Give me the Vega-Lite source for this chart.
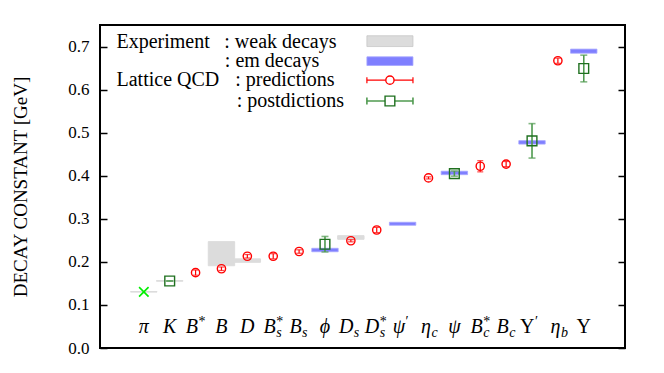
{
  "$schema": "https://vega.github.io/schema/vega-lite/v6.json",
  "width": 525,
  "height": 323,
  "autosize": {"type": "none"},
  "padding": {"left": 100, "top": 25, "right": 39, "bottom": 25},
  "background": "white",
  "config": {
    "view": {"stroke": "black", "strokeWidth": 2},
    "font": "Liberation Serif",
    "axisX": {"disable": true},
    "axisY": {"grid": false, "domain": false}
  },
  "datasets": {
    "weak": [
      {"idx": 1, "name": "pi", "lo": 0.1298, "hi": 0.1312},
      {"idx": 2, "name": "K", "lo": 0.1550, "hi": 0.1566},
      {"idx": 4, "name": "B", "lo": 0.191, "hi": 0.247},
      {"idx": 5, "name": "D", "lo": 0.199, "hi": 0.207},
      {"idx": 9, "name": "Ds", "lo": 0.2525, "hi": 0.2608}
    ],
    "em": [
      {"idx": 8, "name": "phi", "lo": 0.2235, "hi": 0.2315},
      {"idx": 11, "name": "psi'", "lo": 0.285, "hi": 0.292},
      {"idx": 13, "name": "psi", "lo": 0.4025, "hi": 0.4105},
      {"idx": 16, "name": "Upsilon'", "lo": 0.4735, "hi": 0.4815},
      {"idx": 18, "name": "Upsilon", "lo": 0.6845, "hi": 0.6940}
    ],
    "pred": [
      {"idx": 3, "name": "B*", "v": 0.175, "lo": 0.169, "hi": 0.181},
      {"idx": 4, "name": "B", "v": 0.184, "lo": 0.180, "hi": 0.188},
      {"idx": 5, "name": "D", "v": 0.213, "lo": 0.209, "hi": 0.217},
      {"idx": 6, "name": "Bs*", "v": 0.213, "lo": 0.207, "hi": 0.219},
      {"idx": 7, "name": "Bs", "v": 0.224, "lo": 0.220, "hi": 0.228},
      {"idx": 9, "name": "Ds", "v": 0.249, "lo": 0.2465, "hi": 0.2515},
      {"idx": 10, "name": "Ds*", "v": 0.274, "lo": 0.268, "hi": 0.280},
      {"idx": 12, "name": "eta_c", "v": 0.395, "lo": 0.3925, "hi": 0.3975},
      {"idx": 14, "name": "Bc*", "v": 0.422, "lo": 0.409, "hi": 0.435},
      {"idx": 15, "name": "Bc", "v": 0.427, "lo": 0.421, "hi": 0.433},
      {"idx": 17, "name": "eta_b", "v": 0.667, "lo": 0.661, "hi": 0.673}
    ],
    "post": [
      {"idx": 2, "name": "K", "v": 0.1556, "lo": 0.1552, "hi": 0.1560},
      {"idx": 8, "name": "phi", "v": 0.241, "lo": 0.223, "hi": 0.259},
      {"idx": 13, "name": "psi", "v": 0.405, "lo": 0.399, "hi": 0.411},
      {"idx": 16, "name": "Upsilon'", "v": 0.481, "lo": 0.441, "hi": 0.521},
      {"idx": 18, "name": "Upsilon", "v": 0.649, "lo": 0.618, "hi": 0.680}
    ],
    "input": [
      {"idx": 1, "name": "pi", "v": 0.1302}
    ],
    "one": [{}],
    "labels": [
      {"idx": 1, "main": "π", "sup": "", "sub": ""},
      {"idx": 2, "main": "K", "sup": "", "sub": ""},
      {"idx": 3, "main": "B", "sup": "*", "sub": ""},
      {"idx": 4, "main": "B", "sup": "", "sub": ""},
      {"idx": 5, "main": "D", "sup": "", "sub": ""},
      {"idx": 6, "main": "B", "sup": "*", "sub": "s"},
      {"idx": 7, "main": "B", "sup": "", "sub": "s"},
      {"idx": 8, "main": "ϕ", "sup": "", "sub": ""},
      {"idx": 9, "main": "D", "sup": "", "sub": "s"},
      {"idx": 10, "main": "D", "sup": "*", "sub": "s"},
      {"idx": 11, "main": "ψ", "sup": "′", "sub": ""},
      {"idx": 12, "main": "η", "sup": "", "sub": "c"},
      {"idx": 13, "main": "ψ", "sup": "", "sub": ""},
      {"idx": 14, "main": "B", "sup": "*", "sub": "c"},
      {"idx": 15, "main": "B", "sup": "", "sub": "c"},
      {"idx": 16, "main": "Υ", "sup": "′", "sub": ""},
      {"idx": 17, "main": "η", "sup": "", "sub": "b"},
      {"idx": 18, "main": "Υ", "sup": "", "sub": ""}
    ]
  },
  "layer": [
    {
      "data": {"name": "weak"},
      "mark": {"type": "bar", "size": 26.4, "color": "#dcdcdc", "stroke": "#dcdcdc", "strokeWidth": 1},
      "encoding": {
        "x": {"field": "idx", "type": "quantitative", "scale": {"domain": [-0.5, 19.4], "nice": false, "zero": false}},
        "y": {
          "field": "lo", "type": "quantitative",
          "scale": {"domain": [0, 0.75], "nice": false, "zero": false},
          "axis": {
            "orient": "left",
            "values": [0, 0.1, 0.2, 0.3, 0.4, 0.5, 0.6, 0.7],
            "tickSize": -7, "tickWidth": 1.5, "tickColor": "black",
            "labelPadding": 18, "labelFontSize": 17, "labelColor": "black", "labelFont": "Liberation Serif",
            "title": "DECAY CONSTANT [GeV]", "titleFont": "Liberation Serif", "titleFontSize": 19,
            "titleFontWeight": "normal", "titleColor": "black",
            "titleX": -80, "titleY": 161.5, "titleAngle": 270, "titleAlign": "center", "titleBaseline": "middle"
          }
        },
        "y2": {"field": "hi"}
      }
    },
    {
      "data": {"name": "em"},
      "mark": {"type": "bar", "size": 26.4, "color": "#7f7fff", "stroke": "#a6a6ff", "strokeWidth": 0.8},
      "encoding": {
        "x": {"field": "idx", "type": "quantitative"},
        "y": {
          "field": "lo", "type": "quantitative",
          "axis": {
            "orient": "right", "values": [0, 0.1, 0.2, 0.3, 0.4, 0.5, 0.6, 0.7],
            "labels": false, "tickSize": -7, "tickWidth": 1.5, "tickColor": "black", "title": null
          }
        },
        "y2": {"field": "hi"}
      }
    },
    {
      "data": {"name": "pred"},
      "mark": {"type": "errorbar", "color": "#ff0000", "thickness": 1.2, "ticks": {"size": 6, "thickness": 1.2, "color": "#ff0000"}},
      "encoding": {
        "x": {"field": "idx", "type": "quantitative"},
        "y": {"field": "lo", "type": "quantitative", "axis": null},
        "y2": {"field": "hi"}
      }
    },
    {
      "data": {"name": "pred"},
      "mark": {"type": "point", "shape": "circle", "size": 68, "filled": false, "stroke": "#ff0000", "strokeWidth": 1.4, "opacity": 1},
      "encoding": {
        "x": {"field": "idx", "type": "quantitative"},
        "y": {"field": "v", "type": "quantitative", "axis": null}
      }
    },
    {
      "data": {"name": "post"},
      "mark": {"type": "errorbar", "color": "#4f9a4f", "thickness": 1.6, "ticks": {"size": 7, "thickness": 1.6, "color": "#4f9a4f"}},
      "encoding": {
        "x": {"field": "idx", "type": "quantitative"},
        "y": {"field": "lo", "type": "quantitative", "axis": null},
        "y2": {"field": "hi"}
      }
    },
    {
      "data": {"name": "post"},
      "mark": {"type": "point", "shape": "square", "size": 95, "filled": false, "stroke": "#1f701f", "strokeWidth": 1.4, "opacity": 1},
      "encoding": {
        "x": {"field": "idx", "type": "quantitative"},
        "y": {"field": "v", "type": "quantitative", "axis": null}
      }
    },
    {
      "data": {"name": "input"},
      "mark": {"type": "point", "shape": "M-1,-1L1,1M-1,1L1,-1", "size": 90, "filled": false, "stroke": "#00ee00", "strokeWidth": 1.6, "opacity": 1},
      "encoding": {
        "x": {"field": "idx", "type": "quantitative"},
        "y": {"field": "v", "type": "quantitative", "axis": null}
      }
    },
    {
      "data": {"name": "labels"},
      "transform": [{"filter": "datum.sup == '' && datum.sub == '' && datum.main != 'Υ'"}],
      "mark": {"type": "text", "align": "center", "baseline": "alphabetic", "fontSize": 20, "fontStyle": "italic", "font": "Liberation Serif", "color": "black"},
      "encoding": {
        "x": {"field": "idx", "type": "quantitative"},
        "y": {"datum": 0.035, "type": "quantitative", "axis": null},
        "text": {"field": "main"}
      }
    },
    {
      "data": {"name": "labels"},
      "transform": [{"filter": "datum.main == 'Υ' && datum.sup == ''"}],
      "mark": {"type": "text", "align": "center", "baseline": "alphabetic", "fontSize": 20, "font": "Liberation Serif", "color": "black"},
      "encoding": {
        "x": {"field": "idx", "type": "quantitative"},
        "y": {"datum": 0.035, "type": "quantitative", "axis": null},
        "text": {"field": "main"}
      }
    },
    {
      "data": {"name": "labels"},
      "transform": [{"filter": "(datum.sup != '' || datum.sub != '') && datum.main != 'Υ'"}],
      "mark": {"type": "text", "align": "right", "dx": 2.5, "baseline": "alphabetic", "fontSize": 20, "fontStyle": "italic", "font": "Liberation Serif", "color": "black"},
      "encoding": {
        "x": {"field": "idx", "type": "quantitative"},
        "y": {"datum": 0.035, "type": "quantitative", "axis": null},
        "text": {"field": "main"}
      }
    },
    {
      "data": {"name": "labels"},
      "transform": [{"filter": "datum.main == 'Υ' && datum.sup != ''"}],
      "mark": {"type": "text", "align": "right", "dx": 2.5, "baseline": "alphabetic", "fontSize": 20, "font": "Liberation Serif", "color": "black"},
      "encoding": {
        "x": {"field": "idx", "type": "quantitative"},
        "y": {"datum": 0.035, "type": "quantitative", "axis": null},
        "text": {"field": "main"}
      }
    },
    {
      "data": {"name": "labels"},
      "transform": [{"filter": "datum.sup != ''"}],
      "mark": {"type": "text", "align": "left", "dx": 3, "dy": -7, "baseline": "alphabetic", "fontSize": 14, "font": "Liberation Serif", "color": "black"},
      "encoding": {
        "x": {"field": "idx", "type": "quantitative"},
        "y": {"datum": 0.035, "type": "quantitative", "axis": null},
        "text": {"field": "sup"}
      }
    },
    {
      "data": {"name": "labels"},
      "transform": [{"filter": "datum.sub != ''"}],
      "mark": {"type": "text", "align": "left", "dx": 3, "dy": 4.5, "baseline": "alphabetic", "fontSize": 14, "fontStyle": "italic", "font": "Liberation Serif", "color": "black"},
      "encoding": {
        "x": {"field": "idx", "type": "quantitative"},
        "y": {"datum": 0.035, "type": "quantitative", "axis": null},
        "text": {"field": "sub"}
      }
    },
    {
      "data": {"name": "one"},
      "mark": {"type": "text", "align": "left", "baseline": "middle", "fontSize": 20, "font": "Liberation Serif", "color": "black", "text": "Experiment"},
      "encoding": {"x": {"datum": -0.056, "type": "quantitative"}, "y": {"datum": 0.711, "type": "quantitative", "axis": null}}
    },
    {
      "data": {"name": "one"},
      "mark": {"type": "text", "align": "left", "baseline": "middle", "fontSize": 20, "font": "Liberation Serif", "color": "black", "text": ":  weak decays"},
      "encoding": {"x": {"datum": 4.11, "type": "quantitative"}, "y": {"datum": 0.711, "type": "quantitative", "axis": null}}
    },
    {
      "data": {"name": "one"},
      "mark": {"type": "text", "align": "left", "baseline": "middle", "fontSize": 20, "font": "Liberation Serif", "color": "black", "text": ":  em decays"},
      "encoding": {"x": {"datum": 4.13, "type": "quantitative"}, "y": {"datum": 0.666, "type": "quantitative", "axis": null}}
    },
    {
      "data": {"name": "one"},
      "mark": {"type": "text", "align": "left", "baseline": "middle", "fontSize": 20, "font": "Liberation Serif", "color": "black", "text": "Lattice QCD"},
      "encoding": {"x": {"datum": -0.056, "type": "quantitative"}, "y": {"datum": 0.622, "type": "quantitative", "axis": null}}
    },
    {
      "data": {"name": "one"},
      "mark": {"type": "text", "align": "left", "baseline": "middle", "fontSize": 20, "font": "Liberation Serif", "color": "black", "text": ":  predictions"},
      "encoding": {"x": {"datum": 4.53, "type": "quantitative"}, "y": {"datum": 0.622, "type": "quantitative", "axis": null}}
    },
    {
      "data": {"name": "one"},
      "mark": {"type": "text", "align": "left", "baseline": "middle", "fontSize": 20, "font": "Liberation Serif", "color": "black", "text": ":  postdictions"},
      "encoding": {"x": {"datum": 4.59, "type": "quantitative"}, "y": {"datum": 0.5735, "type": "quantitative", "axis": null}}
    },
    {
      "data": {"name": "one"},
      "mark": {"type": "rect", "color": "#dcdcdc", "stroke": "#c8c8c8", "strokeWidth": 0.8},
      "encoding": {
        "x": {"datum": 9.62, "type": "quantitative"}, "x2": {"datum": 11.4},
        "y": {"datum": 0.700, "type": "quantitative", "axis": null}, "y2": {"datum": 0.725}
      }
    },
    {
      "data": {"name": "one"},
      "mark": {"type": "rect", "color": "#7f7fff", "stroke": "#a6a6ff", "strokeWidth": 0.8},
      "encoding": {
        "x": {"datum": 9.62, "type": "quantitative"}, "x2": {"datum": 11.4},
        "y": {"datum": 0.656, "type": "quantitative", "axis": null}, "y2": {"datum": 0.676}
      }
    },
    {
      "data": {"name": "one"},
      "mark": {"type": "rule", "color": "#ff0000", "strokeWidth": 1.2},
      "encoding": {
        "x": {"datum": 9.62, "type": "quantitative"}, "x2": {"datum": 11.4},
        "y": {"datum": 0.622, "type": "quantitative", "axis": null}
      }
    },
    {
      "data": {"name": "one"},
      "mark": {"type": "rule", "color": "#4f9a4f", "strokeWidth": 1.6},
      "encoding": {
        "x": {"datum": 9.62, "type": "quantitative"}, "x2": {"datum": 11.4},
        "y": {"datum": 0.5735, "type": "quantitative", "axis": null}
      }
    },
    {
      "data": {"name": "one"},
      "mark": {"type": "point", "shape": "M0,-1L0,1", "size": 36, "filled": false, "stroke": "#ff0000", "strokeWidth": 1.2, "opacity": 1},
      "encoding": {"x": {"datum": 9.62, "type": "quantitative"}, "y": {"datum": 0.622, "type": "quantitative", "axis": null}}
    },
    {
      "data": {"name": "one"},
      "mark": {"type": "point", "shape": "M0,-1L0,1", "size": 36, "filled": false, "stroke": "#ff0000", "strokeWidth": 1.2, "opacity": 1},
      "encoding": {"x": {"datum": 11.4, "type": "quantitative"}, "y": {"datum": 0.622, "type": "quantitative", "axis": null}}
    },
    {
      "data": {"name": "one"},
      "mark": {"type": "point", "shape": "M0,-1L0,1", "size": 49, "filled": false, "stroke": "#4f9a4f", "strokeWidth": 1.6, "opacity": 1},
      "encoding": {"x": {"datum": 9.62, "type": "quantitative"}, "y": {"datum": 0.5735, "type": "quantitative", "axis": null}}
    },
    {
      "data": {"name": "one"},
      "mark": {"type": "point", "shape": "M0,-1L0,1", "size": 49, "filled": false, "stroke": "#4f9a4f", "strokeWidth": 1.6, "opacity": 1},
      "encoding": {"x": {"datum": 11.4, "type": "quantitative"}, "y": {"datum": 0.5735, "type": "quantitative", "axis": null}}
    },
    {
      "data": {"name": "one"},
      "mark": {"type": "point", "shape": "circle", "size": 68, "filled": true, "fill": "white", "stroke": "#ff0000", "strokeWidth": 1.4, "opacity": 1},
      "encoding": {"x": {"datum": 10.51, "type": "quantitative"}, "y": {"datum": 0.622, "type": "quantitative", "axis": null}}
    },
    {
      "data": {"name": "one"},
      "mark": {"type": "point", "shape": "square", "size": 95, "filled": true, "fill": "white", "stroke": "#1f701f", "strokeWidth": 1.4, "opacity": 1},
      "encoding": {"x": {"datum": 10.51, "type": "quantitative"}, "y": {"datum": 0.5735, "type": "quantitative", "axis": null}}
    }
  ]
}
